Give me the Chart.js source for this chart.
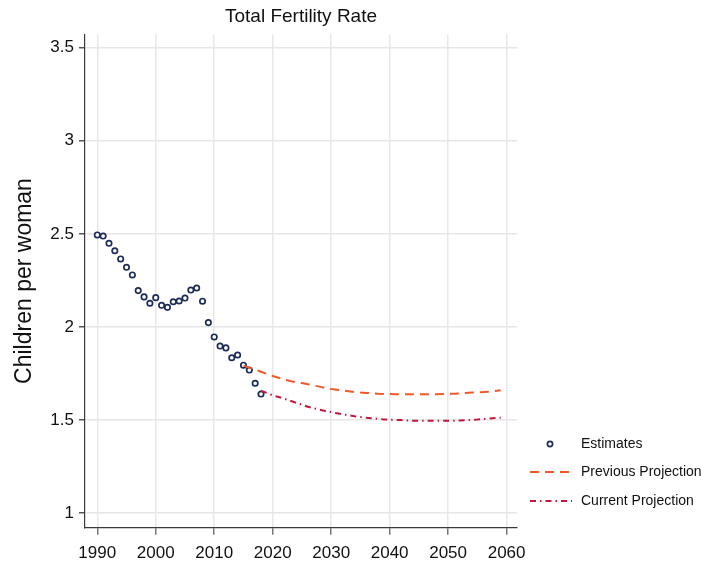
<!DOCTYPE html>
<html>
<head>
<meta charset="utf-8">
<script src="https://cdn.jsdelivr.net/npm/chart.js@4.4.1/dist/chart.umd.min.js"></script>
<style>
  html, body { margin: 0; padding: 0; background: #fff; overflow: hidden; }
  #wrap { position: relative; width: 701px; height: 563px; }
</style>
</head>
<body>
<div id="wrap"><canvas id="tfr-chart" width="701" height="563"></canvas></div>
<script>
// Estimates (observed TFR)
const estimateYears = [1990, 1991, 1992, 1993, 1994, 1995, 1996, 1997, 1998, 1999,
    2000, 2001, 2002, 2003, 2004, 2005, 2006, 2007, 2008, 2009,
    2010, 2011, 2012, 2013, 2014, 2015, 2016, 2017, 2018];
const estimateValues = [2.494, 2.488, 2.449, 2.409, 2.365, 2.320, 2.279, 2.195, 2.161, 2.127,
    2.157, 2.116, 2.105, 2.135, 2.139, 2.155, 2.198, 2.209, 2.138, 2.023,
    1.946, 1.897, 1.887, 1.834, 1.849, 1.794, 1.768, 1.697, 1.639];

// Previous projection
const prevYears = [2015, 2016, 2017, 2018, 2019, 2020, 2021, 2022, 2023, 2024,
    2025, 2026, 2027, 2028, 2029, 2030, 2031, 2032, 2033, 2034,
    2035, 2036, 2037, 2038, 2039, 2040, 2041, 2042, 2043, 2044,
    2045, 2046, 2047, 2048, 2049, 2050, 2051, 2052, 2053, 2054,
    2055, 2056, 2057, 2058, 2059];
const prevValues = [1.792, 1.781, 1.770, 1.759, 1.747, 1.736, 1.727, 1.717, 1.709, 1.703,
    1.698, 1.692, 1.685, 1.679, 1.672, 1.666, 1.662, 1.658, 1.654, 1.650,
    1.647, 1.645, 1.643, 1.641, 1.640, 1.639, 1.638, 1.638, 1.638, 1.638,
    1.638, 1.638, 1.638, 1.638, 1.639, 1.640, 1.641, 1.643, 1.645, 1.647,
    1.649, 1.650, 1.652, 1.655, 1.659];

// Current projection
const currYears = [2018, 2019, 2020, 2021, 2022, 2023, 2024,
    2025, 2026, 2027, 2028, 2029, 2030, 2031, 2032, 2033, 2034,
    2035, 2036, 2037, 2038, 2039, 2040, 2041, 2042, 2043, 2044,
    2045, 2046, 2047, 2048, 2049, 2050, 2051, 2052, 2053, 2054,
    2055, 2056, 2057, 2058, 2059];
const currValues = [1.657, 1.645, 1.632, 1.623, 1.614, 1.603, 1.592,
    1.582, 1.571, 1.563, 1.555, 1.548, 1.542, 1.536, 1.530, 1.525, 1.520,
    1.516, 1.512, 1.509, 1.506, 1.503, 1.501, 1.500, 1.499, 1.497, 1.496,
    1.496, 1.496, 1.496, 1.496, 1.496, 1.496, 1.496, 1.497, 1.498, 1.500,
    1.502, 1.505, 1.507, 1.510, 1.512];

// Axis ticks
const xTicks = [1990, 2000, 2010, 2020, 2030, 2040, 2050, 2060];
const yTicks = [1, 1.5, 2, 2.5, 3, 3.5];

const seriesNames = ['Estimates', 'Previous Projection', 'Current Projection'];

const FONT = '"Liberation Sans", Arial, sans-serif';
const NAVY = '#1c2b57';
const ORANGE = '#f2582a';
const CRIMSON = '#c4173f';

function toPoints(xs, ys) {
    return xs.map((x, i) => ({ x: x, y: ys[i] }));
}

// Legend drawn at the lower right, outside the plot area
const sideLegend = {
    id: 'sideLegend',
    afterDraw(chart) {
        const ctx = chart.ctx;
        const rows = [444, 472, 501];
        ctx.save();
        ctx.font = '14px ' + FONT;
        ctx.fillStyle = '#111';
        ctx.textBaseline = 'middle';
        ctx.textAlign = 'left';

        // Estimates marker
        ctx.beginPath();
        ctx.arc(550, rows[0], 2.6, 0, Math.PI * 2);
        ctx.lineWidth = 1.7;
        ctx.strokeStyle = NAVY;
        ctx.stroke();

        // Previous projection line
        ctx.beginPath();
        ctx.setLineDash([9, 6]);
        ctx.moveTo(530, rows[1]);
        ctx.lineTo(572, rows[1]);
        ctx.lineWidth = 2;
        ctx.strokeStyle = ORANGE;
        ctx.stroke();

        // Current projection line
        ctx.beginPath();
        ctx.setLineDash([6, 4, 1.5, 4]);
        ctx.moveTo(530, rows[2]);
        ctx.lineTo(572, rows[2]);
        ctx.strokeStyle = CRIMSON;
        ctx.stroke();
        ctx.setLineDash([]);

        seriesNames.forEach((name, i) => {
            ctx.fillText(name, 581, rows[i] + 0.5);
        });
        ctx.restore();
    }
};

new Chart(document.getElementById('tfr-chart'), {
    type: 'line',
    data: {
        datasets: [{
            label: seriesNames[1],
            data: toPoints(prevYears, prevValues),
            borderColor: ORANGE,
            borderWidth: 2,
            borderDash: [9, 6],
            pointRadius: 0,
            tension: 0,
            fill: false
        }, {
            label: seriesNames[2],
            data: toPoints(currYears, currValues),
            borderColor: CRIMSON,
            borderWidth: 2,
            borderDash: [6, 4, 1.5, 4],
            pointRadius: 0,
            tension: 0,
            fill: false
        }, {
            label: seriesNames[0],
            data: toPoints(estimateYears, estimateValues),
            showLine: false,
            pointStyle: 'circle',
            pointRadius: 2.7,
            pointBorderWidth: 1.7,
            pointBorderColor: NAVY,
            pointBackgroundColor: '#fff'
        }]
    },
    options: {
        responsive: false,
        animation: false,
        events: [],
        layout: {
            padding: { top: 0, right: 184, bottom: 0, left: 0 }
        },
        scales: {
            x: {
                type: 'linear',
                min: 1987.9,
                max: 2061.78,
                afterFit: (scale) => { scale.height = 35.3; },
                afterBuildTicks: (scale) => { scale.ticks = xTicks.map(v => ({ value: v })); },
                border: { display: true, color: '#3a3a3a', width: 1.2 },
                grid: {
                    color: '#e8e8e8',
                    lineWidth: 1.5,
                    tickColor: '#777',
                    tickLength: 7
                },
                ticks: {
                    color: '#111',
                    padding: 8,
                    maxRotation: 0,
                    autoSkip: false,
                    font: { family: FONT, size: 17 },
                    callback: (v) => String(v)
                }
            },
            y: {
                min: 0.921,
                max: 3.572,
                afterFit: (scale) => { scale.width = 85; },
                afterBuildTicks: (scale) => { scale.ticks = yTicks.map(v => ({ value: v })); },
                border: { display: true, color: '#3a3a3a', width: 1.2 },
                grid: {
                    color: '#e6e6e6',
                    lineWidth: 1.5,
                    tickColor: '#555',
                    tickLength: 6
                },
                title: {
                    display: true,
                    text: 'Children per woman',
                    color: '#111',
                    padding: { top: 11, bottom: 0 },
                    font: { family: FONT, size: 23, weight: 'normal' }
                },
                ticks: {
                    color: '#111',
                    padding: 5,
                    autoSkip: false,
                    font: { family: FONT, size: 17 },
                    callback: (v) => String(v)
                }
            }
        },
        plugins: {
            legend: { display: false },
            tooltip: { enabled: false },
            title: {
                display: true,
                text: 'Total Fertility Rate',
                fullSize: false,
                color: '#111',
                padding: { top: 5.3, bottom: 6.2 },
                font: { family: FONT, size: 19, weight: 'normal' }
            }
        }
    },
    plugins: [sideLegend]
});
</script>
</body>
</html>
